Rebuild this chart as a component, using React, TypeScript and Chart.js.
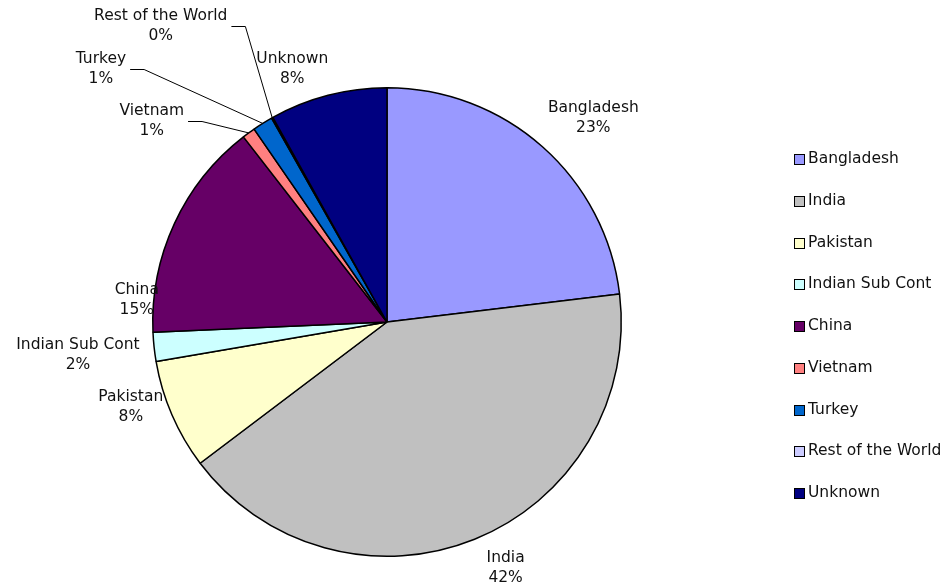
import React, { useEffect, useRef } from 'react';
import { Chart, registerables } from 'chart.js';

Chart.register(...registerables);

const categories = ['Bangladesh', 'India', 'Pakistan', 'Indian Sub Cont', 'China', 'Vietnam', 'Turkey', 'Rest of the World', 'Unknown'];
const shares = [23.1, 41.6, 7.6, 2.0, 15.2, 0.9, 1.4, 0.1, 8.1];
const colors = ['#9999FF', '#C0C0C0', '#FFFFCC', '#CCFFFF', '#660066', '#FF8080', '#0066CC', '#CCCCFF', '#000080'];

// label text centre offsets from pie centre (in px at radius 235)
const labelOffsets: [number, number][] = [
  [207, -205],
  [119, 247],
  [-257, 85],
  [-310, 33],
  [-251, -22],
  [-236, -202],
  [-287, -254],
  [-227, -297],
  [-95, -254],
];
const hasLeader = [false, false, false, false, false, true, true, true, false];

const FONT = '15.5px "DejaVu Sans", Verdana, sans-serif';

const labelPlugin = {
  id: 'pieLabels',
  afterDatasetsDraw(chart: any) {
    const ctx = chart.ctx;
    const meta = chart.getDatasetMeta(0);
    const data = chart.data.datasets[0].data as number[];
    const total = data.reduce((a, b) => a + b, 0);
    ctx.save();
    ctx.font = FONT;
    ctx.fillStyle = '#111';
    ctx.strokeStyle = '#000';
    ctx.lineWidth = 1;
    ctx.textAlign = 'center';
    ctx.textBaseline = 'middle';
    meta.data.forEach((arc: any, i: number) => {
      const p = arc.getProps(['x', 'y', 'startAngle', 'endAngle', 'outerRadius'], true);
      const s = p.outerRadius / 235;
      const lx = p.x + labelOffsets[i][0] * s;
      const ly = p.y + labelOffsets[i][1] * s;
      const pct = Math.round((data[i] / total) * 100) + '%';
      ctx.fillText(chart.data.labels[i], lx, ly - 10);
      ctx.fillText(pct, lx, ly + 10);
      if (hasLeader[i]) {
        const w = ctx.measureText(chart.data.labels[i]).width;
        const sx = lx + w / 2 + 4;
        const mid = (p.startAngle + p.endAngle) / 2;
        const ex = p.x + Math.cos(mid) * p.outerRadius;
        const ey = p.y + Math.sin(mid) * p.outerRadius;
        ctx.beginPath();
        ctx.moveTo(sx, Math.round(ly) + 0.5);
        ctx.lineTo(sx + 14, Math.round(ly) + 0.5);
        ctx.lineTo(ex, ey);
        ctx.stroke();
      }
    });
    ctx.restore();
  },
};

const legendPlugin = {
  id: 'customLegend',
  afterDraw(chart: any) {
    const ctx = chart.ctx;
    const labels = chart.data.labels as string[];
    const bg = chart.data.datasets[0].backgroundColor as string[];
    const x0 = 794;
    const y0 = 159;
    const step = 41.75;
    const box = 11;
    ctx.save();
    ctx.font = FONT;
    ctx.textAlign = 'left';
    ctx.textBaseline = 'middle';
    labels.forEach((lab, i) => {
      const cy = Math.round(y0 + i * step);
      ctx.fillStyle = bg[i];
      ctx.fillRect(x0, cy - 5, box, box);
      ctx.strokeStyle = '#000';
      ctx.lineWidth = 1;
      ctx.strokeRect(x0 + 0.5, cy - 5 + 0.5, box - 1, box - 1);
      ctx.fillStyle = '#111';
      ctx.fillText(lab, x0 + box + 3, cy);
    });
    ctx.restore();
  },
};

export default function App() {
  const ref = useRef<HTMLCanvasElement>(null);
  useEffect(() => {
    document.body.style.margin = '0';
    const chart = new Chart(ref.current!, {
      type: 'pie',
      data: {
        labels: categories,
        datasets: [
          {
            data: shares,
            backgroundColor: colors,
            borderColor: '#000',
            borderWidth: 1.5,
          },
        ],
      },
      options: {
        responsive: false,
        animation: false,
        layout: { padding: { left: 152, right: 326, top: 87, bottom: 31 } },
        plugins: {
          legend: { display: false },
          tooltip: { enabled: false },
        },
      },
      plugins: [labelPlugin, legendPlugin],
    });
    return () => chart.destroy();
  }, []);
  return (
    <div style={{ width: 948, height: 588, background: '#fff' }}>
      <canvas ref={ref} width={948} height={588} />
    </div>
  );
}
